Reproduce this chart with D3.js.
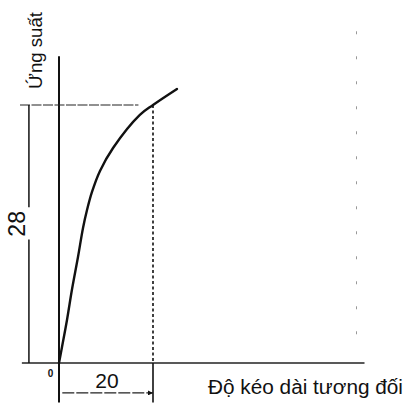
<!DOCTYPE html>
<html>
<head>
<meta charset="utf-8">
<script src="https://cdn.jsdelivr.net/npm/d3@7"></script>
<style>
  html, body { margin: 0; padding: 0; background: #fff; }
  svg { display: block; }
  text { font-family: "Liberation Sans", Arial, sans-serif; fill: #111; }
</style>
</head>
<body>
<div id="chart"></div>
<script>
// strain (relative elongation) vs stress
const strain = [0, 0.64, 1.7, 2.77, 4.04, 5.11, 5.96, 7.02, 8.72, 11.5, 17.2, 20, 25.1];
const stress = [0, 1.74, 4.67, 8.0, 11.5, 14.65, 16.6, 18.56, 20.84, 23.33, 26.92, 28, 29.74];

// marked point and its dimension labels
const markX = 20;
const markY = 28;
const xLabel = "Độ kéo dài tương đối";
const yLabel = "Ứng suất";
const originLabel = "0";

// axis extents in data units
const xExtent = [-7.9, 65];
const yExtent = [-4.3, 33.3];

const width = 405, height = 406;

const svg = d3.select("#chart").append("svg")
  .attr("width", width)
  .attr("height", height);

const x = d3.scaleLinear().domain([0, markX]).range([59, 153]);
const y = d3.scaleLinear().domain([0, markY]).range([363, 105]);

// arrow marker for the "20" dimension
const defs = svg.append("defs");
defs.append("marker")
  .attr("id", "arr")
  .attr("viewBox", "0 0 10 10")
  .attr("refX", 10).attr("refY", 5)
  .attr("markerWidth", 7).attr("markerHeight", 5)
  .attr("markerUnits", "userSpaceOnUse")
  .attr("orient", "auto-start-reverse")
  .append("path")
  .attr("d", "M0,0L10,5L0,10z")
  .attr("fill", "#111");

// x axis
svg.append("line")
  .attr("x1", x(xExtent[0])).attr("x2", x(xExtent[1]))
  .attr("y1", y(0)).attr("y2", y(0))
  .attr("stroke", "#222").attr("stroke-width", 1.6);

// y axis
svg.append("line")
  .attr("x1", x(0)).attr("x2", x(0))
  .attr("y1", y(yExtent[0])).attr("y2", y(yExtent[1]))
  .attr("stroke", "#111").attr("stroke-width", 2);

// horizontal guide at the marked stress
svg.append("line")
  .attr("x1", x(-8.3)).attr("x2", x(16.9))
  .attr("y1", y(markY)).attr("y2", y(markY))
  .attr("stroke", "#222").attr("stroke-width", 1.2)
  .attr("stroke-dasharray", "10,1.5");

// vertical dashed guide at the marked strain
svg.append("line")
  .attr("x1", x(markX)).attr("x2", x(markX))
  .attr("y1", y(markY)).attr("y2", y(0))
  .attr("stroke", "#111").attr("stroke-width", 1.6)
  .attr("stroke-dasharray", "3,2.5");

// extension line below axis
svg.append("line")
  .attr("x1", x(markX)).attr("x2", x(markX))
  .attr("y1", y(0)).attr("y2", y(yExtent[0]))
  .attr("stroke", "#111").attr("stroke-width", 1.6);

// vertical dimension line for 28 (broken around its label)
const dimX = x(-6.4);
svg.append("line")
  .attr("x1", dimX).attr("x2", dimX)
  .attr("y1", y(markY)).attr("y2", y(16.9))
  .attr("stroke", "#111").attr("stroke-width", 1.5);
svg.append("line")
  .attr("x1", dimX).attr("x2", dimX)
  .attr("y1", y(13.4)).attr("y2", y(0))
  .attr("stroke", "#111").attr("stroke-width", 1.5);

// horizontal dimension line for 20
const dimY = y(-3.25);
svg.append("line")
  .attr("x1", x(0.7)).attr("x2", x(markX))
  .attr("y1", dimY).attr("y2", dimY)
  .attr("stroke", "#222").attr("stroke-width", 1.2)
  .attr("stroke-dasharray", "12,2")
  .attr("marker-end", "url(#arr)");

// the curve
const line = d3.line()
  .x((d, i) => x(strain[i]))
  .y(d => y(d))
  .curve(d3.curveCatmullRom.alpha(0.5));

svg.append("path")
  .datum(stress)
  .attr("d", line)
  .attr("fill", "none")
  .attr("stroke", "#111")
  .attr("stroke-width", 2.4)
  .attr("stroke-linecap", "round");

// faint scan mark on the right edge
svg.append("line")
  .attr("x1", x(63.3)).attr("x2", x(63.3))
  .attr("y1", y(36)).attr("y2", y(2.5))
  .attr("stroke", "#999").attr("stroke-width", 1)
  .attr("stroke-dasharray", "3,22");

// labels
svg.append("text")
  .attr("transform", `translate(42,89) rotate(-90)`)
  .attr("font-size", 19)
  .attr("textLength", 77)
  .attr("lengthAdjust", "spacingAndGlyphs")
  .text(yLabel);

svg.append("text")
  .attr("transform", `translate(25,${y(15.1)}) rotate(-90)`)
  .attr("text-anchor", "middle")
  .attr("font-size", 23)
  .text(markY);

svg.append("text")
  .attr("x", (x(0) + x(markX)) / 2 + 1)
  .attr("y", 388)
  .attr("text-anchor", "middle")
  .attr("font-size", 21)
  .text(markX);

svg.append("text")
  .attr("x", 50.5)
  .attr("y", 377)
  .attr("text-anchor", "middle")
  .attr("font-size", 10)
  .attr("font-weight", "bold")
  .text(originLabel);

svg.append("text")
  .attr("x", 208)
  .attr("y", 394)
  .attr("font-size", 20)
  .attr("textLength", 195)
  .attr("lengthAdjust", "spacingAndGlyphs")
  .text(xLabel);
</script>
</body>
</html>
